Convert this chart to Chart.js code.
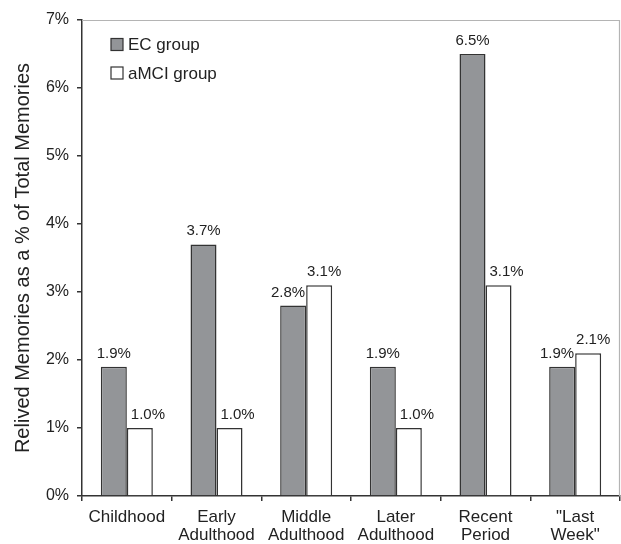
<!DOCTYPE html>
<html>
<head>
<meta charset="utf-8">
<script src="https://cdn.jsdelivr.net/npm/chart.js@4.4.1/dist/chart.umd.min.js"></script>
<style>
  html, body { margin: 0; padding: 0; background: #ffffff; }
  #wrap { width: 621px; height: 544px; }
</style>
</head>
<body>
<div id="wrap"><canvas id="chart" width="621" height="544"></canvas></div>
<script>
// Life periods (multi-line tick labels)
const categories = [
  ["Childhood"],
  ["Early", "Adulthood"],
  ["Middle", "Adulthood"],
  ["Later", "Adulthood"],
  ["Recent", "Period"],
  ["\"Last", "Week\""]
];
const seriesNames = ["EC group", "aMCI group"];
// Relived memories as a percentage of total memories
const ecValues = [1.9, 3.7, 2.8, 1.9, 6.5, 1.9];
const amciValues = [1.0, 1.0, 3.1, 1.0, 3.1, 2.1];
const yTickValues = [0, 1, 2, 3, 4, 5, 6, 7];
const yAxisTitle = "Relived Memories as a % of Total Memories";

const FONT = "'Liberation Sans', Arial, sans-serif";
const INK = "#222222";
const AXIS = "#333333";
const EC_FILL = "#939598";

// Light frame along the top and right of the plot area
const framePlugin = {
  id: 'frame',
  beforeDatasetsDraw(chart) {
    const { ctx, chartArea: a } = chart;
    ctx.save();
    ctx.strokeStyle = '#b4b4b4';
    ctx.lineWidth = 1.2;
    ctx.beginPath();
    ctx.moveTo(a.left, a.top + 0.5);
    ctx.lineTo(a.right - 0.5, a.top + 0.5);
    ctx.lineTo(a.right - 0.5, a.bottom);
    ctx.stroke();
    ctx.restore();
  }
};

// Value labels above each bar; a label is slid sideways when the
// neighbouring bar of its pair would otherwise cut through it
const valueLabelPlugin = {
  id: 'valueLabels',
  afterDatasetsDraw(chart) {
    const { ctx } = chart;
    ctx.save();
    ctx.font = '15px ' + FONT;
    ctx.fillStyle = INK;
    ctx.textAlign = 'center';
    ctx.textBaseline = 'alphabetic';
    const m0 = chart.getDatasetMeta(0).data;
    const m1 = chart.getDatasetMeta(1).data;
    const d0 = chart.data.datasets[0].data;
    const d1 = chart.data.datasets[1].data;
    for (let i = 0; i < m0.length; i++) {
      const a = m0[i], b = m1[i];
      const ya = a.y - 9, yb = b.y - 9;
      const ta = d0[i].toFixed(1) + '%';
      const tb = d1[i].toFixed(1) + '%';
      const wa = ctx.measureText(ta).width;
      const wb = ctx.measureText(tb).width;
      const boundary = (a.x + a.width / 2 + b.x - b.width / 2) / 2;
      let xa = a.x, xb = b.x;
      if (b.y < ya) {
        // right bar is taller: keep left label on its own side
        xa = Math.min(xa, boundary - wa / 2 - 1);
      } else if (Math.abs(ya - yb) < 30) {
        xa -= 5;
      }
      if (a.y < yb) {
        // left bar is taller: keep right label on its own side
        xb = Math.max(xb, boundary + wb / 2 + 4);
      } else if (Math.abs(ya - yb) < 30) {
        xb += 5;
      }
      ctx.fillText(ta, xa, ya);
      ctx.fillText(tb, xb, yb);
    }
    ctx.restore();
  }
};

// Legend drawn inside the plot area, top-left
const insideLegendPlugin = {
  id: 'insideLegend',
  afterDraw(chart) {
    const { ctx, chartArea: a } = chart;
    ctx.save();
    ctx.font = '17px ' + FONT;
    ctx.textBaseline = 'middle';
    ctx.textAlign = 'left';
    const x0 = a.left + 29;
    const size = 12;
    chart.data.datasets.forEach((ds, i) => {
      const cy = a.top + 24.5 + i * 28.5;
      ctx.fillStyle = ds.backgroundColor;
      ctx.fillRect(x0, cy - size / 2, size, size);
      ctx.strokeStyle = AXIS;
      ctx.lineWidth = 1.2;
      ctx.strokeRect(x0, cy - size / 2, size, size);
      ctx.fillStyle = INK;
      ctx.fillText(ds.label, x0 + size + 5, cy + 1);
    });
    ctx.restore();
  }
};

new Chart(document.getElementById('chart'), {
  type: 'bar',
  data: {
    labels: categories,
    datasets: [
      {
        label: seriesNames[0],
        data: ecValues,
        backgroundColor: EC_FILL,
        borderColor: AXIS,
        borderWidth: 1.5,
        borderSkipped: 'bottom'
      },
      {
        label: seriesNames[1],
        data: amciValues,
        backgroundColor: '#ffffff',
        borderColor: AXIS,
        borderWidth: 1.5,
        borderSkipped: 'bottom'
      }
    ]
  },
  options: {
    responsive: false,
    animation: false,
    events: [],
    layout: { padding: { top: 20, right: 1, left: 0, bottom: 0 } },
    datasets: {
      bar: { categoryPercentage: 0.58, barPercentage: 1.0 }
    },
    plugins: {
      legend: { display: false },
      tooltip: { enabled: false }
    },
    scales: {
      x: {
        grid: {
          display: true,
          offset: true,
          drawOnChartArea: false,
          drawTicks: true,
          tickLength: 5,
          color: AXIS,
          lineWidth: 1.5
        },
        border: { display: true, color: AXIS, width: 1.5 },
        ticks: {
          color: INK,
          font: { family: FONT, size: 17, lineHeight: 1.09 },
          padding: 7,
          maxRotation: 0,
          autoSkip: false
        },
        afterFit(axis) { axis.height = 48; }
      },
      y: {
        min: 0,
        max: 7,
        afterBuildTicks(axis) { axis.ticks = yTickValues.map(v => ({ value: v })); },
        grid: {
          display: true,
          drawOnChartArea: false,
          drawTicks: true,
          tickLength: 5,
          color: AXIS,
          lineWidth: 1.5
        },
        border: { display: true, color: AXIS, width: 1.5 },
        ticks: {
          color: INK,
          font: { family: FONT, size: 16 },
          padding: 8,
          callback: v => v + '%'
        },
        title: {
          display: true,
          text: yAxisTitle,
          color: INK,
          font: { family: FONT, size: 20, lineHeight: 1.2 },
          padding: { top: 11, bottom: 0 }
        },
        afterFit(axis) { axis.width = 82; }
      }
    }
  },
  plugins: [framePlugin, valueLabelPlugin, insideLegendPlugin]
});
</script>
</body>
</html>
